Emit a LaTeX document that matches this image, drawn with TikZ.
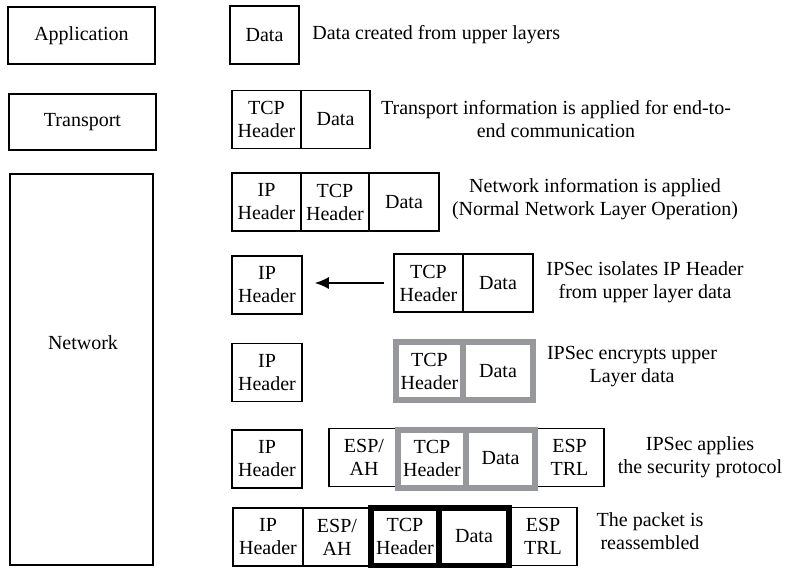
\documentclass[tikz,border=0pt]{standalone}
\usepackage{fontspec}
\setmainfont{Liberation Serif}
\usetikzlibrary{arrows.meta}
\definecolor{encgray}{RGB}{150,152,155}

\tikzset{
  layer/.style={draw, line width=0.8pt, inner sep=0pt},
  cell/.style={draw, line width=0.8pt, inner sep=0pt, align=center,
    font=\fontsize{10}{11.5}\selectfont, minimum height=29pt},
  enc/.style={cell, draw=encgray, line width=3pt},
  packed/.style={cell, draw=black, line width=3pt},
  note/.style={align=center, font=\fontsize{10}{11.5}\selectfont, inner sep=0pt}
}

\begin{document}
\begin{tikzpicture}[x=0.5pt, y=-0.5pt]
    \useasboundingbox (0,0) rectangle (785,567);
    % layers on the left
    \node[layer, minimum width=73.5pt, minimum height=28.5pt] (app) at (81.5,35.5) {Application};
    \node[layer, minimum width=73.5pt, minimum height=28pt] (trans) at (82.5,122) {Transport};
    \node[layer, minimum width=71.5pt, minimum height=195.5pt] (net) at (81.5,369.5) {};
    \node (netlabel) at (83,343) {Network};

    % row 1
    \node[cell, minimum width=34.5pt] (data1) at (264.5,35) {Data};
    \node[note, anchor=west] (t1) at (312,35) {Data created from upper layers};

    % row 2
    \node[cell, minimum width=34.5pt] (tcp2) at (266.5,119.5) {TCP\\Header};
    \node[cell, minimum width=34.5pt] (data2) at (335.5,119.5) {Data};
    \node[note] (t2) at (556,119) {Transport information is applied for end-to-\\end communication};

    % row 3
    \node[cell, minimum width=34.5pt] (ip3) at (266.5,202) {IP\\Header};
    \node[cell, minimum width=34pt] (tcp3) at (335,202) {TCP\\Header};
    \node[cell, minimum width=35pt] (data3) at (404,202) {Data};
    \node[note] (t3) at (595,199) {Network information is applied\\(Normal Network Layer Operation)};

    % row 4
    \node[cell, minimum width=35pt] (ip4) at (267,285) {IP\\Header};
    \node[cell, minimum width=34.5pt] (tcp4) at (428.5,283) {TCP\\Header};
    \node[cell, minimum width=35pt] (data4) at (498,283) {Data};
    \draw[-{Latex[length=7pt,width=6pt]}, line width=0.8pt, shorten <=4.5pt, shorten >=6pt]
      (tcp4.west) -- (tcp4.west -| ip4.east);
    \node[note] (t4) at (645,282) {IPSec isolates IP Header\\from upper layer data};

    % row 5
    \node[cell, minimum width=35pt] (ip5) at (267,372.5) {IP\\Header};
    \node[enc, minimum width=33.5pt] (tcp5) at (429.5,371) {TCP\\Header};
    \node[enc, minimum width=35pt] (data5) at (498,371) {Data};
    \node[note] (t5) at (632,367) {IPSec encrypts upper\\Layer data};

    % row 6
    \node[cell, minimum width=35pt] (ip6) at (267,459) {IP\\Header};
    \node[cell, minimum width=35pt] (esp6) at (364,457.5) {ESP/\\AH};
    \node[cell, minimum width=34.5pt] (trl6) at (569.5,457.5) {ESP\\TRL};
    \node[enc, minimum width=34pt] (tcp6) at (432,458.5) {TCP\\Header};
    \node[enc, minimum width=34.5pt] (data6) at (500.5,458.5) {Data};
    \node[note] (t6) at (700,457) {IPSec applies\\the security protocol};

    % row 7
    \node[cell, minimum width=35pt] (ip7) at (268,537) {IP\\Header};
    \node[cell, minimum width=34pt] (esp7) at (337,537) {ESP/\\AH};
    \node[cell, minimum width=34pt] (trl7) at (543,536.5) {ESP\\TRL};
    \node[packed, minimum width=34pt] (tcp7) at (405,536.5) {TCP\\Header};
    \node[packed, minimum width=35pt] (data7) at (474,536.5) {Data};
    \node[note] (t7) at (650,531) {The packet is\\reassembled};
\end{tikzpicture}
\end{document}
